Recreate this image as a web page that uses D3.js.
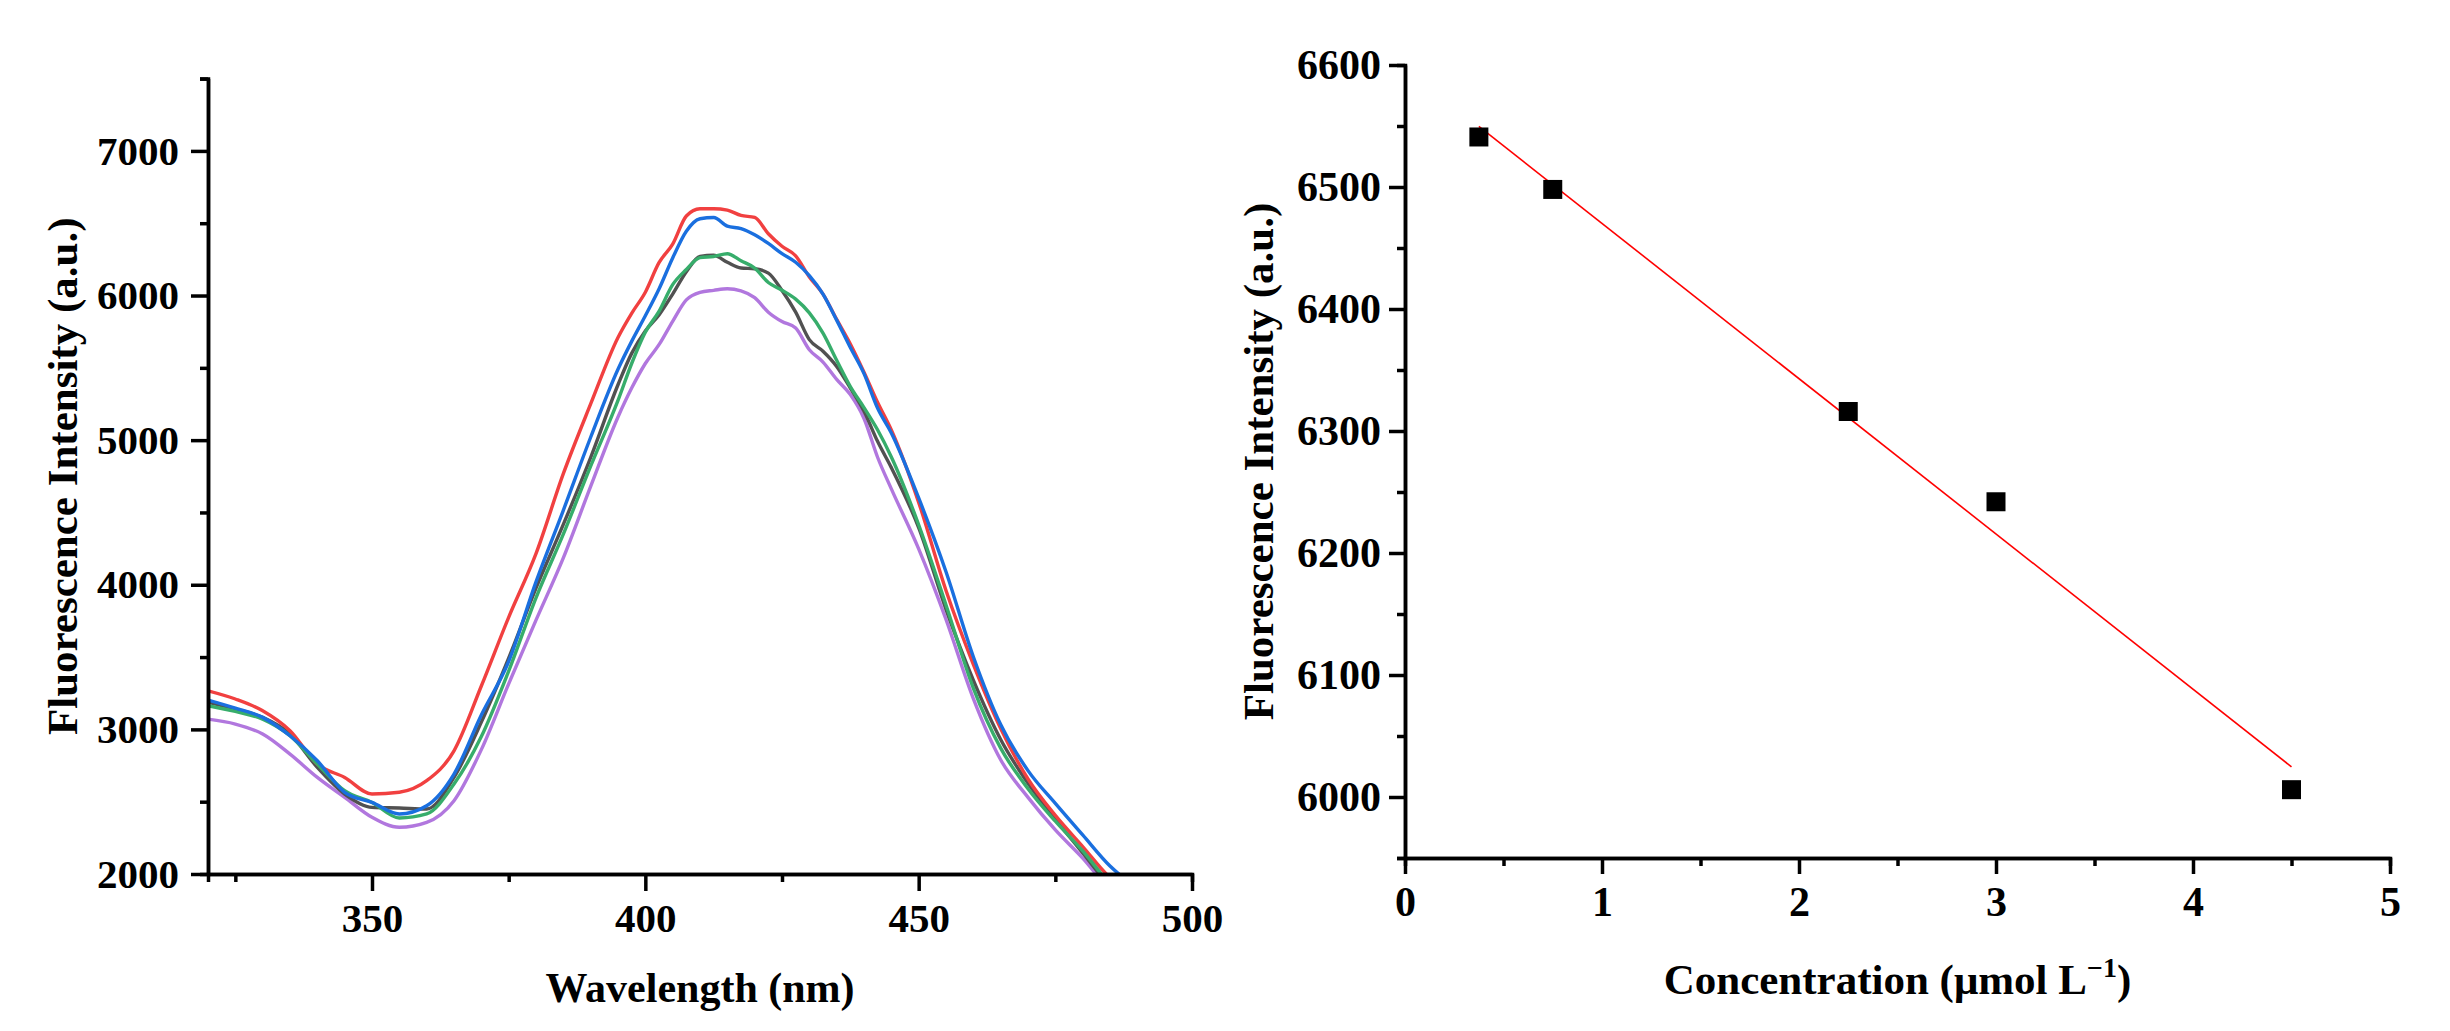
<!DOCTYPE html>
<html>
<head>
<meta charset="utf-8">
<script src="https://cdn.jsdelivr.net/npm/d3@7"></script>
<style>
    body { margin: 0; background: #fff; }
    svg text { font-family: "Liberation Serif", "Times New Roman", serif; font-weight: bold; fill: #000; }
</style>
</head>
<body>
<svg id="chart" width="2450" height="1031"></svg>
<script>
// ---- spectra (left panel) ----
var wavelength = [320, 325, 330, 335, 340, 345, 350, 355, 360, 365, 370, 375, 380, 385, 390, 395,
    397.5, 400, 402.5, 405, 407.5, 410, 412.5, 415, 417.5, 420, 422.5, 425, 427.5, 430, 432.5, 435, 437.5, 440, 442.5, 445,
    450, 455, 460, 465, 470, 475, 480, 485, 490];

var blackSpec = [3187, 3140, 3083, 2968, 2737, 2553, 2461, 2456, 2449, 2668, 3050, 3492, 3977, 4417, 4880, 5383,
    5600, 5755, 5865, 6010, 6165, 6270, 6278, 6230, 6190, 6185, 6155, 6035, 5885, 5695, 5615, 5510, 5360, 5200, 4990, 4810,
    4395, 3830, 3340, 2930, 2627, 2380, 2145, 1920, 1800];
var redSpec = [3267, 3210, 3129, 2991, 2760, 2668, 2553, 2565, 2645, 2852, 3300, 3775, 4215, 4768, 5250, 5710,
    5877, 6023, 6227, 6355, 6550, 6600, 6600, 6590, 6554, 6540, 6427, 6341, 6275, 6128, 6010, 5835, 5665, 5470, 5260, 5070,
    4570, 3960, 3450, 3006, 2657, 2405, 2190, 1975, 1850];
var blueSpec = [3203, 3147, 3083, 2956, 2783, 2565, 2495, 2415, 2472, 2691, 3100, 3470, 4020, 4515, 5020, 5490,
    5683, 5860, 6045, 6260, 6445, 6531, 6540, 6480, 6463, 6420, 6360, 6290, 6230, 6137, 6010, 5830, 5640, 5460, 5220, 5050,
    4600, 4090, 3502, 3033, 2715, 2488, 2270, 2055, 1900];
var greenSpec = [3164, 3124, 3071, 2956, 2760, 2576, 2495, 2387, 2415, 2622, 2950, 3403, 3910, 4350, 4820, 5275,
    5530, 5747, 5890, 6075, 6180, 6262, 6270, 6289, 6240, 6190, 6090, 6037, 5975, 5880, 5740, 5552, 5370, 5225, 5070, 4884,
    4415, 3860, 3285, 2870, 2590, 2365, 2160, 1935, 1800];
var purpleSpec = [3071, 3037, 2968, 2829, 2668, 2530, 2392, 2323, 2357, 2507, 2860, 3315, 3755, 4186, 4680, 5160,
    5360, 5530, 5660, 5822, 5970, 6022, 6036, 6047, 6033, 5985, 5885, 5820, 5775, 5625, 5540, 5420, 5315, 5150, 4880, 4663,
    4248, 3760, 3213, 2790, 2530, 2305, 2110, 1890, 1750];

var wlTicks = [350, 400, 450, 500];
var intensityTicks = [2000, 3000, 4000, 5000, 6000, 7000];

// ---- calibration (right panel) ----
var concentration = [0.375, 0.75, 2.25, 3.0, 4.5];
var intensity = [6541, 6498, 6316, 6242, 6006];
var concTicks = [0, 1, 2, 3, 4, 5];
var calTicks = [6000, 6100, 6200, 6300, 6400, 6500, 6600];

var svg = d3.select("svg#chart");
var fmt = d3.format("d");

function styleAxis(g) {
    g.select(".domain").attr("stroke", "#000").attr("stroke-width", 3.5);
    g.selectAll(".tick line").attr("stroke", "#000").attr("stroke-width", 3.5);
    g.selectAll(".tick text").attr("font-family", null).attr("fill", "#000");
}

function drawSpectra() {
    var x = d3.scaleLinear().domain([320, 500]).range([208, 1192]);
    var y = d3.scaleLinear().domain([2000, 7500]).range([874, 78.6]);

    svg.append("defs").append("clipPath")
        .attr("id", "clipSpec")
        .append("rect")
        .attr("x", x(320))
        .attr("y", y(7500))
        .attr("width", x(500) - x(320))
        .attr("height", y(2000) - y(7500));

    var series = [
        { values: purpleSpec, color: "#B177DE" },
        { values: blackSpec, color: "#515151" },
        { values: redSpec, color: "#F14040" },
        { values: greenSpec, color: "#37AD6B" },
        { values: blueSpec, color: "#1A6FDF" }
    ];

    var line = d3.line()
        .x((d, i) => x(wavelength[i]))
        .y(d => y(d))
        .curve(d3.curveMonotoneX);

    svg.append("g")
        .attr("clip-path", "url(#clipSpec)")
        .selectAll("path")
        .data(series)
        .enter()
        .append("path")
        .attr("fill", "none")
        .attr("stroke", d => d.color)
        .attr("stroke-width", 3.4)
        .attr("stroke-linejoin", "round")
        .attr("d", d => line(d.values));

    // minor ticks
    svg.append("g")
        .attr("transform", "translate(0," + y(2000) + ")")
        .call(d3.axisBottom(x).tickValues([325, 375, 425, 475]).tickSize(8).tickFormat(""))
        .call(styleAxis);
    svg.append("g")
        .attr("transform", "translate(" + x(320) + ",0)")
        .call(d3.axisLeft(y).tickValues([2500, 3500, 4500, 5500, 6500, 7500]).tickSize(8).tickFormat(""))
        .call(styleAxis);

    svg.append("g")
        .attr("transform", "translate(0," + y(2000) + ")")
        .call(d3.axisBottom(x).tickValues(wlTicks).tickFormat(fmt).tickSize(17).tickSizeOuter(0).tickPadding(12))
        .call(styleAxis)
        .selectAll(".tick text")
        .attr("font-size", 41);

    svg.append("g")
        .attr("transform", "translate(" + x(320) + ",0)")
        .call(d3.axisLeft(y).tickValues(intensityTicks).tickFormat(fmt).tickSize(17).tickSizeOuter(0).tickPadding(12))
        .call(styleAxis)
        .selectAll(".tick text")
        .attr("font-size", 41);

    svg.append("text")
        .attr("x", (x(320) + x(500)) / 2)
        .attr("y", 1002)
        .attr("text-anchor", "middle")
        .attr("font-size", 42)
        .text("Wavelength (nm)");

    svg.append("text")
        .attr("transform", "translate(62," + (y(2000) + y(7500)) / 2 + ") rotate(-90)")
        .attr("text-anchor", "middle")
        .attr("dominant-baseline", "central")
        .attr("font-size", 43)
        .text("Fluorescence Intensity (a.u.)");
}

function drawCalibration() {
    var x = d3.scaleLinear().domain([0, 5]).range([1405, 2390]);
    var y = d3.scaleLinear().domain([5950, 6600]).range([858, 65]);

    // least-squares fit through the points
    var mx = d3.mean(concentration),
        my = d3.mean(intensity);
    var sxy = d3.sum(concentration, (c, i) => (c - mx) * (intensity[i] - my));
    var sxx = d3.sum(concentration, c => (c - mx) * (c - mx));
    var slope = sxy / sxx,
        icpt = my - slope * mx;
    var xEnds = d3.extent(concentration);

    svg.append("g")
        .attr("transform", "translate(0," + y(5950) + ")")
        .call(d3.axisBottom(x).tickValues([0.5, 1.5, 2.5, 3.5, 4.5]).tickSize(8).tickFormat(""))
        .call(styleAxis);
    svg.append("g")
        .attr("transform", "translate(" + x(0) + ",0)")
        .call(d3.axisLeft(y).tickValues([5950, 6050, 6150, 6250, 6350, 6450, 6550]).tickSize(8).tickFormat(""))
        .call(styleAxis);

    svg.append("g")
        .attr("transform", "translate(0," + y(5950) + ")")
        .call(d3.axisBottom(x).tickValues(concTicks).tickFormat(fmt).tickSize(16).tickSizeOuter(0).tickPadding(12))
        .call(styleAxis)
        .selectAll(".tick text")
        .attr("font-size", 42);

    svg.append("g")
        .attr("transform", "translate(" + x(0) + ",0)")
        .call(d3.axisLeft(y).tickValues(calTicks).tickFormat(fmt).tickSize(16).tickSizeOuter(0).tickPadding(8))
        .call(styleAxis)
        .selectAll(".tick text")
        .attr("font-size", 42);

    svg.append("line")
        .attr("x1", x(xEnds[0]))
        .attr("y1", y(icpt + slope * xEnds[0]))
        .attr("x2", x(xEnds[1]))
        .attr("y2", y(icpt + slope * xEnds[1]))
        .attr("stroke", "#FF0000")
        .attr("stroke-width", 1.6);

    svg.append("g")
        .selectAll("path")
        .data(concentration)
        .enter()
        .append("path")
        .attr("transform", (d, i) => "translate(" + x(d) + "," + y(intensity[i]) + ")")
        .attr("d", d3.symbol(d3.symbolSquare).size(19 * 19))
        .attr("fill", "#000");

    var t = svg.append("text")
        .attr("x", (x(0) + x(5)) / 2)
        .attr("y", 994)
        .attr("text-anchor", "middle")
        .attr("font-size", 43);
    t.append("tspan").text("Concentration (\u03bcmol L");
    t.append("tspan").attr("dy", -17).attr("font-size", 28).text("\u22121");
    t.append("tspan").attr("dy", 17).text(")");

    svg.append("text")
        .attr("transform", "translate(1258," + (y(5950) + y(6600)) / 2 + ") rotate(-90)")
        .attr("text-anchor", "middle")
        .attr("dominant-baseline", "central")
        .attr("font-size", 43)
        .text("Fluorescence Intensity (a.u.)");
}

drawSpectra();
drawCalibration();
</script>
</body>
</html>
